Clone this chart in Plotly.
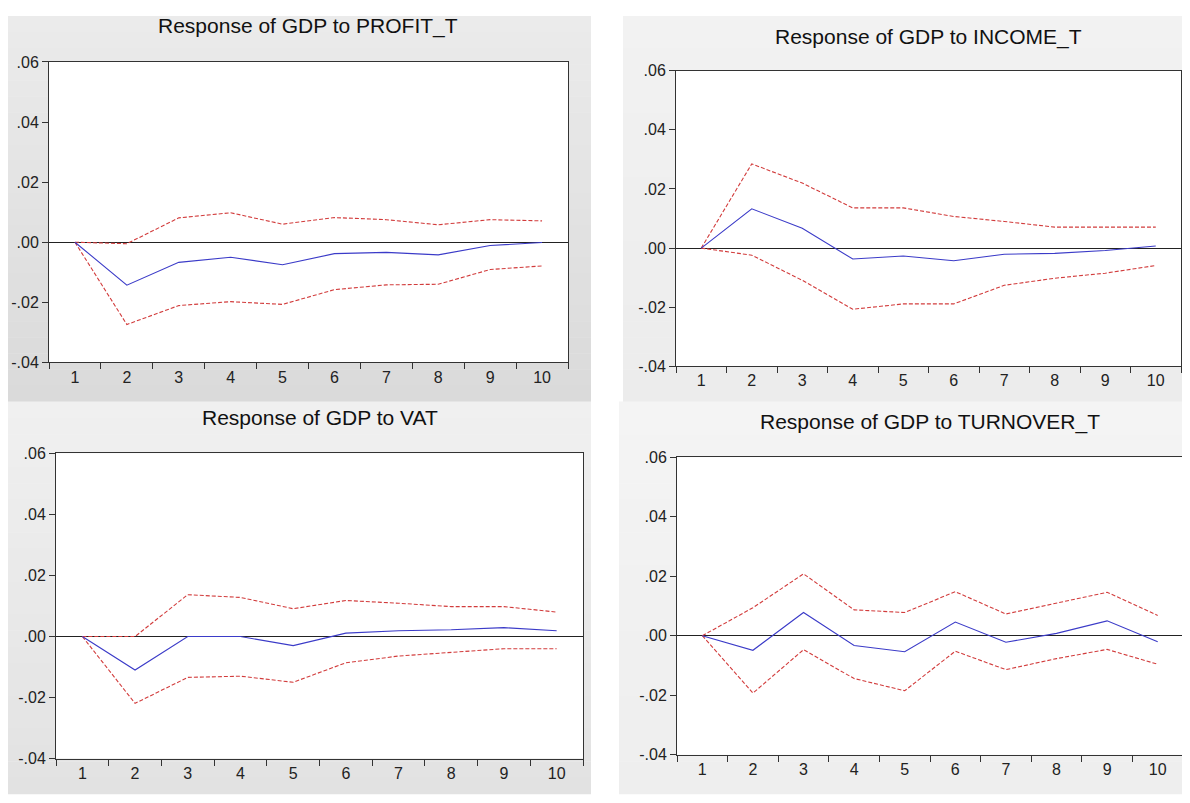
import plotly.graph_objects as go

periods = ["1", "2", "3", "4", "5", "6", "7", "8", "9", "10"]

titles = [
    "Response of GDP to PROFIT_T",
    "Response of GDP to INCOME_T",
    "Response of GDP to VAT",
    "Response of GDP to TURNOVER_T",
]

profit_resp = [0.0, -0.0143, -0.0067, -0.0050, -0.0075, -0.0038, -0.0034, -0.0042, -0.0011, -0.0001]
profit_up = [0.0, -0.0005, 0.0081, 0.0098, 0.0060, 0.0082, 0.0075, 0.0058, 0.0075, 0.0071]
profit_lo = [0.0, -0.0274, -0.0211, -0.0198, -0.0207, -0.0158, -0.0142, -0.0140, -0.0091, -0.0079]

income_resp = [0.0, 0.0133, 0.0067, -0.0037, -0.0027, -0.0043, -0.0021, -0.0018, -0.0008, 0.0007]
income_up = [0.0, 0.0285, 0.0220, 0.0136, 0.0136, 0.0107, 0.0090, 0.0071, 0.0071, 0.0071]
income_lo = [0.0, -0.0024, -0.0109, -0.0207, -0.0189, -0.0189, -0.0126, -0.0102, -0.0085, -0.0059]

vat_resp = [0.0, -0.0110, 0.0, 0.0, -0.0030, 0.0011, 0.0019, 0.0022, 0.0029, 0.0019]
vat_up = [0.0, 0.0, 0.0137, 0.0128, 0.0091, 0.0118, 0.0109, 0.0098, 0.0098, 0.0080]
vat_lo = [0.0, -0.0219, -0.0134, -0.0130, -0.0150, -0.0086, -0.0064, -0.0051, -0.0040, -0.0040]

turn_resp = [0.0, -0.0049, 0.0078, -0.0033, -0.0054, 0.0046, -0.0022, 0.0008, 0.0050, -0.0020]
turn_up = [0.0, 0.0094, 0.0208, 0.0087, 0.0078, 0.0148, 0.0073, 0.0109, 0.0146, 0.0068]
turn_lo = [0.0, -0.0193, -0.0047, -0.0144, -0.0185, -0.0052, -0.0114, -0.0077, -0.0046, -0.0096]

y_tickvals = [-0.04, -0.02, 0.0, 0.02, 0.04, 0.06]
y_ticktext = ["-.04", "-.02", ".00", ".02", ".04", ".06"]

series = [
    (profit_resp, profit_up, profit_lo),
    (income_resp, income_up, income_lo),
    (vat_resp, vat_up, vat_lo),
    (turn_resp, turn_up, turn_lo),
]

# The page body has an 8px default margin; lay out in page pixels and shift.
OFF = 8
W, H = 1190 - OFF, 803 - 2 * OFF

# plot frames in page pixels: (left, right, top, bottom)
frames = [(49, 568, 55, 362), (676, 1181, 64, 366), (56, 583, 455, 767), (677, 1183, 459, 763)]
title_y = [18, 29, 418, 423]
# panel backgrounds: (left, right, top, bottom, top color, bottom color)
panels = [
    (7, 591, 8, 402, (235, 235, 235), (218, 218, 218)),
    (623, 1190, 8, 402, (242, 242, 242), (236, 236, 236)),
    (5, 591, 402, 803, (240, 240, 240), (226, 226, 226)),
    (619, 1190, 402, 803, (244, 244, 244), (238, 238, 238)),
]


def px(x):
    return (x - OFF) / W


def py(y):
    return 1 - (y - OFF) / H


BLUE = "#3b3bc8"
RED = "#d23c3c"

fig = go.Figure()
layout = dict(
    width=W, height=H,
    margin=dict(l=0, r=0, t=0, b=0),
    paper_bgcolor="white", plot_bgcolor="white",
    showlegend=False,
    font=dict(family="Liberation Sans, Arial, sans-serif", color="#222222", size=16),
)

shapes = []
for (l, r, t, b, c0, c1) in panels:
    n = 24
    for i in range(n):
        f = (i + 0.5) / n
        c = tuple(int(round(c0[k] + (c1[k] - c0[k]) * f)) for k in range(3))
        y0 = t + (b - t) * i / n
        y1 = t + (b - t) * (i + 1) / n + 0.5
        shapes.append(dict(type="rect", xref="paper", yref="paper",
                           x0=px(l), x1=px(r), y0=py(y1), y1=py(y0),
                           fillcolor="rgb(%d,%d,%d)" % c, line=dict(width=0), layer="below"))
for (l, r, t, b) in frames:
    shapes.append(dict(type="rect", xref="paper", yref="paper",
                       x0=px(l), x1=px(r), y0=py(b), y1=py(t),
                       fillcolor="white", line=dict(width=0), layer="below"))

annotations = []
for i, ((resp, up, lo), (l, r, t, b)) in enumerate(zip(series, frames)):
    xa = "x" if i == 0 else "x%d" % (i + 1)
    ya = "y" if i == 0 else "y%d" % (i + 1)
    for vals, color, dash in [(up, RED, "4px,2px"), (lo, RED, "4px,2px"), (resp, BLUE, "solid")]:
        fig.add_trace(go.Scatter(x=periods, y=vals, mode="lines", xaxis=xa, yaxis=ya,
                                 line=dict(color=color, width=1.1, dash=dash)))
    xk = "xaxis" if i == 0 else "xaxis%d" % (i + 1)
    yk = "yaxis" if i == 0 else "yaxis%d" % (i + 1)
    layout[xk] = dict(
        domain=[px(l), px(r)], anchor=ya, type="category",
        categoryorder="array", categoryarray=periods,
        range=[-0.5, 9.5], tickson="boundaries", ticks="outside", ticklen=6,
        tickcolor="#333333", showline=True, linecolor="#333333", linewidth=1,
        mirror=True, showgrid=False, zeroline=False, fixedrange=True,
        tickfont=dict(size=16),
    )
    layout[yk] = dict(
        domain=[py(b), py(t)], anchor=xa,
        range=[-0.04, 0.06], tickvals=y_tickvals, ticktext=y_ticktext,
        ticks="outside", ticklen=6, tickcolor="#333333",
        showline=True, linecolor="#333333", linewidth=1, mirror=True,
        showgrid=False, zeroline=True, zerolinecolor="#222222", zerolinewidth=1,
        fixedrange=True, tickfont=dict(size=16),
    )
    annotations.append(dict(text=titles[i], xref="paper", yref="paper",
                            x=px((l + r) / 2), y=py(title_y[i]),
                            xanchor="center", yanchor="middle", showarrow=False,
                            font=dict(size=21, color="#111111")))

layout["shapes"] = shapes
layout["annotations"] = annotations
fig.update_layout(**layout)
fig.write_html("out.html")
